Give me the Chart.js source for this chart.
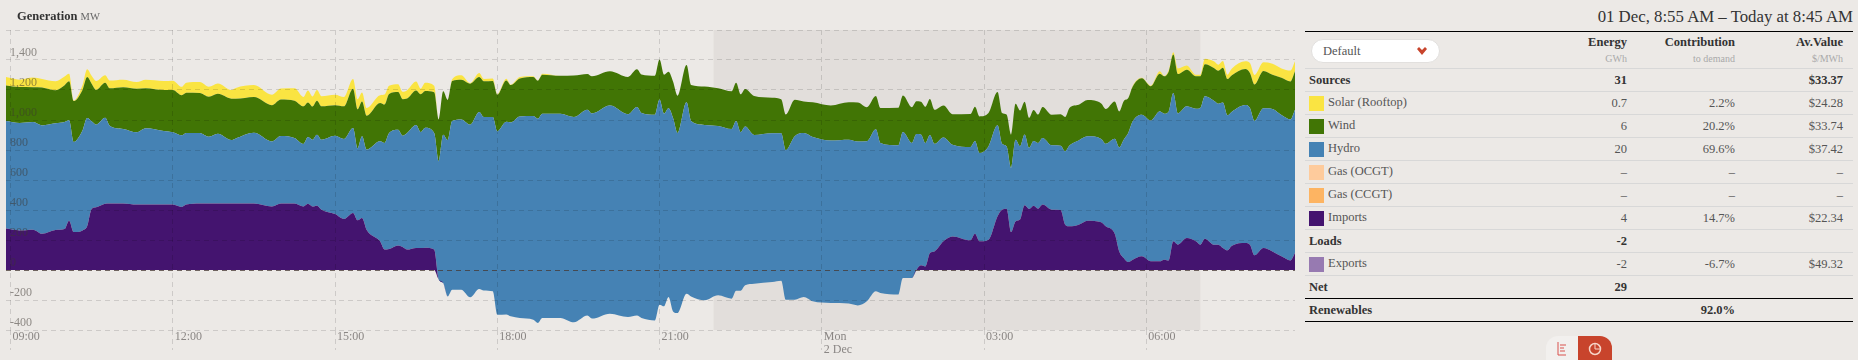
<!DOCTYPE html>
<html>
<head>
<meta charset="utf-8">
<script src="https://cdn.jsdelivr.net/npm/chart.js@4"></script>
<style>
  html, body { margin:0; padding:0; background:#ece9e6; width:1858px; height:360px; overflow:hidden; }
  body { position:relative; font-family:"Liberation Serif", serif; color:#444; }
  #chart { position:absolute; left:0; top:0; }
  .title { position:absolute; left:17px; top:9px; font-size:12.5px; font-weight:bold; color:#333; }
  .title span { font-weight:normal; font-size:10.5px; color:#666; }
  .range { position:absolute; right:5px; top:7px; font-size:16.8px; color:#333; white-space:nowrap; }
  table { position:absolute; left:1305px; top:31px; width:548px; border-collapse:collapse; border-top:1px solid #000; font-size:12.5px; table-layout:fixed; }
  td { height:22px; padding:0; border-bottom:1px solid #d8d8d8; text-align:right; color:#555; }
  td:first-child { text-align:left; padding-left:4px; }
  tr.head td { vertical-align:top; padding-top:4px; height:32px; font-weight:bold; color:#333; line-height:13px; }
  tr.head small { display:block; font-size:10px; font-weight:normal; color:#aaa; margin-top:3px; }
  tr.b td { font-weight:bold; color:#333; }
  tr.net td { border-bottom:1px solid #000; }
  tr.ren td { border-bottom:1px solid #000; }
  .sw { display:inline-block; width:15px; height:15px; vertical-align:middle; margin-right:4px; }
  .select { position:absolute; left:1311px; top:39px; width:129px; height:24px; box-sizing:border-box; background:#fff; border:1px solid #e2e0de; border-radius:12px; font-size:12.5px; line-height:22px; padding-left:11px; color:#555; }
  .select svg { position:absolute; right:12px; top:7px; }
  .pill { position:absolute; left:1546px; top:336px; width:66px; height:24px; border-radius:12px 12px 0 0; background:#f2f0ee; overflow:hidden; }
  .pill div { position:absolute; right:0; top:0; width:34px; height:24px; background:#c8442c; }
  .pill svg { position:absolute; }
</style>
</head>
<body>
<canvas id="chart" width="1300" height="360"></canvas>
<div class="title">Generation <span>MW</span></div>
<div class="range">01 Dec, 8:55 AM – Today at 8:45 AM</div>

<table id="tabla"></table>
<div class="select">Default
  <svg width="10" height="8" viewBox="0 0 10 8"><path d="M0 2 L2 0 L5 3 L8 0 L10 2 L5 8 Z" fill="#c8442c"/></svg>
</div>
<div class="pill">
  <svg width="12" height="14" style="left:11px;top:6px" viewBox="0 0 12 14"><path d="M1 0V13H9M3 3H9M3 6H7M3 9H8" stroke="#d9534f" fill="none"/></svg>
  <div></div>
  <svg width="14" height="14" style="left:42px;top:6px" viewBox="0 0 14 14"><circle cx="7" cy="7" r="5.5" stroke="#f6d5c8" fill="none" stroke-width="1.5"/><path d="M7 1V7H13" stroke="#f6d5c8" fill="none"/></svg>
</div>

<script>
// 1. DATOS
const times = [
  535,550,565,575,590,600,605,610,620,625,
  630,635,645,650,665,680,690,710,720,730,
  735,750,760,770,785,790,810,830,840,855,
  865,870,875,880,885,900,910,920,925,930,
  935,950,955,960,970,975,980,990,995,1000,
  1010,1015,1020,1025,1030,1040,1050,1060,1065,1075,
  1080,1090,1095,1105,1120,1125,1130,1150,1165,1180,
  1185,1205,1225,1235,1240,1255,1260,1265,1270,1275,
  1280,1290,1295,1310,1325,1340,1345,1350,1355,1365,
  1385,1395,1400,1410,1420,1430,1450,1470,1480,1490,
  1500,1505,1525,1530,1540,1545,1550,1555,1560,1565,
  1575,1585,1605,1610,1615,1625,1635,1640,1645,1650,
  1655,1660,1665,1670,1675,1680,1685,1695,1705,1710,
  1715,1725,1735,1750,1755,1765,1770,1775,1780,1785,
  1795,1805,1815,1820,1825,1830,1835,1845,1855,1860,
  1865,1875,1880,1885,1890,1895,1910,1915,1920,1930,
  1940,1950,1960,1965
];
const solar = [
  56,49,64,56,60,58,51,4,33,53,
  53,60,51,53,51,44,56,60,62,56,
  67,73,67,69,58,73,80,69,73,82,
  62,80,67,71,67,69,62,64,67,60,
  51,51,67,56,53,49,56,60,38,56,
  44,0,0,0,11,31,4,27,16,16,
  4,11,2,9,4,2,7,0,0,0,
  0,0,0,0,0,0,0,0,0,0,
  0,0,0,0,0,0,0,0,0,0,
  0,0,0,0,0,0,0,0,0,0,
  0,0,0,0,0,0,0,0,0,0,
  0,0,0,0,0,0,0,0,0,0,
  0,0,0,0,0,0,0,0,0,0,
  0,0,0,0,0,0,0,0,0,4,
  2,4,16,2,11,16,38,29,11,11,
  38,44,40,44,29,44,51,67,64,58,
  73,62,73,67
];
const wind = [
  236,240,233,253,220,246,260,273,271,273,
  251,231,233,249,278,291,267,273,282,267,
  267,267,267,267,276,264,238,242,244,249,
  251,231,222,227,222,204,218,262,260,233,
  227,256,256,260,251,244,229,229,251,244,
  271,278,289,267,267,264,273,233,238,240,
  244,276,249,253,260,253,260,253,276,238,
  249,229,249,251,256,260,267,260,244,244,
  249,249,240,256,251,251,256,253,251,260,
  238,227,238,244,211,231,233,249,260,227,
  222,233,251,244,238,218,218,242,240,227,
  213,204,220,229,244,222,222,204,211,222,
  240,238,218,200,207,189,207,204,209,229,
  251,238,242,236,231,249,240,256,233,233,
  244,229,251,249,267,256,262,244,216,211,
  213,218,220,233,242,244,240,233,242,249,
  229,249,253,256
];
const hydro = [
  718,716,717,722,711,713,669,600,667,722,
  584,551,573,518,496,482,509,491,482,478,
  478,469,444,464,422,433,471,433,449,436,
  416,444,444,473,467,522,533,567,480,544,
  533,667,711,773,771,742,778,820,773,800,
  778,789,989,1042,1124,1135,1151,1180,1156,1162,
  1222,1284,1293,1344,1358,1362,1362,1362,1369,1373,
  1367,1387,1351,1391,1367,1371,1367,1284,1258,1289,
  1200,1276,1169,1169,1129,1131,1131,1056,1058,991,
  991,982,996,1089,1093,1096,1084,1093,1093,1067,
  1080,1000,995,973,900,907,873,822,787,717,
  693,611,622,618,589,622,607,440,416,427,
  544,489,473,407,431,438,444,429,429,489,
  540,562,562,556,551,633,693,789,860,922,
  944,938,1000,973,993,989,875,878,884,911,
  949,960,940,969,900,893,920,911,896,931,
  949,942,940,956
];
const imports = [
  276,264,269,242,267,273,329,253,264,291,
  407,418,442,444,444,436,436,436,436,420,
  436,444,444,444,444,444,444,424,444,444,
  424,442,424,429,402,373,340,380,331,347,
  269,191,136,140,164,153,136,147,147,149,
  136,0,0,0,0,0,0,0,0,0,
  0,0,0,0,0,0,0,0,0,0,
  0,0,0,0,0,0,0,0,0,0,
  0,0,0,0,0,0,0,0,0,0,
  0,0,0,0,0,0,0,0,0,0,
  0,0,0,0,0,0,31,24,113,124,
  191,224,198,242,191,202,358,402,409,253,
  324,336,431,407,429,409,436,402,400,302,
  291,302,329,318,291,242,124,80,53,69,
  91,58,58,69,64,191,169,213,191,169,
  209,169,169,147,131,162,180,169,98,147,
  124,91,64,113
];
const exportsMw = [
  0,0,0,0,0,0,0,0,0,0,
  0,0,0,0,0,0,0,0,0,0,
  0,0,0,0,0,0,0,0,0,0,
  0,0,0,0,0,0,0,0,0,0,
  0,0,0,0,0,0,0,0,0,0,
  0,-64,-87,-176,-131,-131,-182,-127,-136,-142,
  -298,-296,-309,-320,-331,-353,-320,-320,-349,-304,
  -324,-291,-313,-304,-320,-336,-231,-242,-180,-276,
  -287,-158,-176,-202,-169,-191,-138,-138,-102,-91,
  -80,-71,-198,-198,-180,-209,-220,-224,-236,-209,
  -142,-153,-164,-53,-53,0,0,0,0,0,
  0,0,0,0,0,0,0,0,0,0,
  0,0,0,0,0,0,0,0,0,0,
  0,0,0,0,0,0,0,0,0,0,
  0,0,0,0,0,0,0,0,0,0,
  0,0,0,0,0,0,0,0,0,0,
  0,0,0,0
];

// Marcas del eje X y franja de noche (minutos desde las 00:00 del 1 Dic)
const tickMinutes = [540,720,900,1080,1260,1440,1620,1800];
const nightStart = 1320;
const nightEnd = 1860;

// Tabla lateral
const rowNames = ['Sources','Solar (Rooftop)','Wind','Hydro','Gas (OCGT)','Gas (CCGT)','Imports','Loads','Exports','Net','Renewables'];
const rowEnergy = ['31','0.7','6','20','–','–','4','-2','-2','29',''];
const rowContribution = ['','2.2%','20.2%','69.6%','–','–','14.7%','','-6.7%','','92.0%'];
const rowValue = ['$33.37','$24.28','$33.74','$37.42','–','–','$22.34','','$49.32','',''];
const rowColors = [null,'#fae442','#417505','#4582b4','#fecb9c','#fdb462','#44146f',null,'#977ab1',null,null];

function serie(valores) {
  return valores.map((v, i) => ({ x: times[i], y: v }));
}

function capa(label, valores, color, fill) {
  return {
    label,
    data: serie(valores),
    backgroundColor: color,
    borderColor: color,
    borderWidth: 0,
    pointRadius: 0,
    cubicInterpolationMode: 'monotone',
    fill
  };
}

// 2. FRANJA DE NOCHE
const franjaNoche = {
  id: 'franjaNoche',
  beforeDatasetsDraw(chart) {
    const { ctx, chartArea, scales } = chart;
    const x0 = scales.x.getPixelForValue(nightStart);
    const x1 = scales.x.getPixelForValue(nightEnd);
    ctx.save();
    ctx.fillStyle = '#e2dedb';
    ctx.fillRect(x0, chartArea.top, x1 - x0, chartArea.bottom - chartArea.top);
    ctx.restore();
  }
};

const fuente = { family: '"Liberation Serif", serif', size: 12, lineHeight: 1.05 };

// 3. GRAFICO
new Chart(document.getElementById('chart'), {
  type: 'line',
  data: {
    datasets: [
      capa('Exports', exportsMw, '#977ab1', false),
      capa('Imports', imports, '#44146f', '-1'),
      capa('Hydro', hydro, '#4582b4', '-1'),
      capa('Wind', wind, '#417505', '-1'),
      capa('Solar (Rooftop)', solar, '#fae442', '-1')
    ]
  },
  plugins: [franjaNoche],
  options: {
    responsive: false,
    animation: false,
    layout: { padding: { left: 6, right: 5, top: 30, bottom: 0 } },
    plugins: { legend: { display: false }, tooltip: { enabled: false } },
    scales: {
      x: {
        type: 'linear',
        min: 535,
        max: 1965,
        afterBuildTicks: s => { s.ticks = tickMinutes.map(value => ({ value })); },
        afterFit: s => {
          s.height = 30;
          s.paddingLeft = 0;
          s.paddingRight = 0;
        },
        border: { display: false, dash: [5, 4] },
        grid: {
          z: 1,
          color: 'rgba(0,0,0,0.13)',
          tickColor: 'rgba(0,0,0,0.13)',
          tickLength: 20,
          tickBorderDash: [5, 4]
        },
        ticks: {
          autoSkip: false,
          maxRotation: 0,
          align: 'start',
          labelOffset: 2,
          padding: -19,
          z: 1,
          color: '#8a8684',
          font: fuente,
          callback: v => {
            if (v === 1440) return ['Mon', '2 Dec'];
            const m = v % 1440;
            return String(Math.floor(m / 60)).padStart(2, '0') + ':00';
          }
        }
      },
      y: {
        stacked: 'single',
        min: -400,
        max: 1600,
        afterFit: s => {
          s.width = 0;
          s.paddingTop = 0;
          s.paddingBottom = 0;
        },
        border: { display: false, dash: [5, 4] },
        grid: {
          z: 1,
          drawTicks: false,
          color: c => c.tick.value === 0 ? 'rgba(70,55,50,0.75)' : 'rgba(0,0,0,0.13)'
        },
        ticks: {
          stepSize: 200,
          mirror: true,
          padding: 4,
          labelOffset: -7,
          z: 1,
          color: 'rgba(60,55,50,0.55)',
          font: fuente,
          callback: v => v === 1600 ? '' : v.toLocaleString('en-US')
        }
      }
    }
  }
});

// 4. TABLA
const tabla = document.getElementById('tabla');
tabla.innerHTML = `
  <colgroup><col style="width:212px"><col style="width:110px"><col style="width:108px"><col style="width:108px"><col style="width:10px"></colgroup>
  <tr class="head"><td></td><td>Energy<small>GWh</small></td><td>Contribution<small>to demand</small></td><td>Av.Value<small>$/MWh</small></td><td></td></tr>
` + rowNames.map((n, i) => {
  const clase = rowColors[i] ? '' : 'b';
  const extra = n === 'Net' ? ' net' : n === 'Renewables' ? ' ren' : '';
  const sw = rowColors[i] ? `<span class="sw" style="background:${rowColors[i]}"></span>` : '';
  return `<tr class="${clase}${extra}"><td>${sw}${n}</td><td>${rowEnergy[i]}</td><td>${rowContribution[i]}</td><td>${rowValue[i]}</td><td></td></tr>`;
}).join('');
</script>
</body>
</html>
